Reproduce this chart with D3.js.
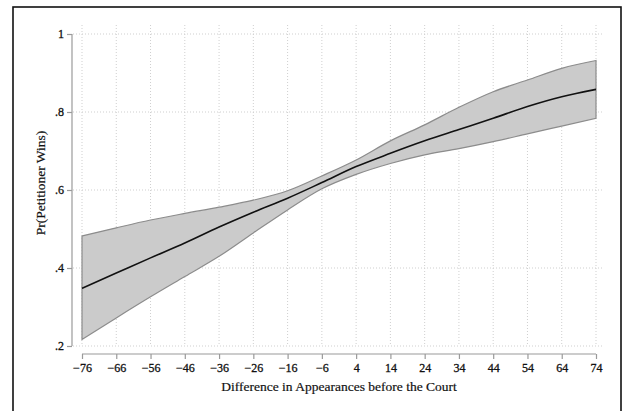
<!DOCTYPE html>
<html><head><meta charset="utf-8">
<script src="https://d3js.org/d3.v7.min.js"></script>
<style>html,body{margin:0;padding:0;background:#fff;}svg{display:block;}</style>
</head><body>
<svg id="c" width="624" height="411"></svg>
<script>
const xValues = [-76,-66,-56,-46,-36,-26,-16,-6,4,14,24,34,44,54,64,74];
const predicted = [0.348,0.387,0.426,0.464,0.505,0.543,0.579,0.619,0.660,0.694,0.726,0.755,0.784,0.814,0.839,0.858];
const upperCI = [0.482,0.503,0.523,0.540,0.556,0.574,0.598,0.636,0.677,0.726,0.767,0.812,0.852,0.882,0.912,0.932];
const lowerCI = [0.217,0.272,0.326,0.378,0.430,0.490,0.549,0.603,0.640,0.668,0.690,0.706,0.724,0.744,0.764,0.784];
const xTicks = [-76,-66,-56,-46,-36,-26,-16,-6,4,14,24,34,44,54,64,74];
const yTicks = [0.2,0.4,0.6,0.8,1];
const yTickLabels = [".2",".4",".6",".8","1"];
const xTitle = "Difference in Appearances before the Court";
const yTitle = "Pr(Petitioner Wins)";

const svg = d3.select("#c");
const font = "'Liberation Serif','Times New Roman',serif";
const x = d3.scaleLinear().domain([-76,74]).range([82,596]);
const y = d3.scaleLinear().domain([0.2,1]).range([346,34]);

// outer frame
svg.append("rect").attr("x",13).attr("y",7).attr("width",608).attr("height",412)
  .attr("fill","none").attr("stroke","#111").attr("stroke-width",1.6);

// grid
const grid = svg.append("g").attr("stroke","#cfcfcf").attr("stroke-width",1).attr("stroke-dasharray","1,2");
xTicks.forEach(t=>grid.append("line").attr("x1",x(t)).attr("x2",x(t)).attr("y1",25).attr("y2",346));
yTicks.forEach(t=>grid.append("line").attr("x1",73).attr("x2",602).attr("y1",y(t)).attr("y2",y(t)));

const data = xValues.map((v,i)=>({x:v,p:predicted[i],u:upperCI[i],l:lowerCI[i]}));
const area = d3.area().x(d=>x(d.x)).y0(d=>y(d.l)).y1(d=>y(d.u)).curve(d3.curveMonotoneX);
svg.append("path").datum(data).attr("d",area).attr("fill","#cbcbcb").attr("stroke","#8c8c8c").attr("stroke-width",1.2);
const line = d3.line().x(d=>x(d.x)).y(d=>y(d.p)).curve(d3.curveMonotoneX);
svg.append("path").datum(data).attr("d",line).attr("fill","none").attr("stroke","#111").attr("stroke-width",1.6);

// axes
const xAxis = d3.axisBottom(x).tickValues(xTicks).tickSize(5).tickPadding(4).tickFormat(d3.format("d"));
const gx = svg.append("g").attr("transform","translate(0,354)").call(xAxis);
const yAxis = d3.axisLeft(y).tickValues(yTicks).tickSize(5).tickPadding(3).tickFormat((d,i)=>yTickLabels[i]);
const gy = svg.append("g").attr("transform","translate(72,0)").call(yAxis);
[gx,gy].forEach(g=>{
  g.select(".domain").attr("stroke","#9a9a9a").attr("stroke-width",1.2);
  g.selectAll(".tick line").attr("stroke","#9a9a9a").attr("stroke-width",1.2);
  g.selectAll(".tick text").attr("fill","#111").attr("stroke","#111").attr("stroke-width",0.3)
    .style("font-family",font).style("font-size","12px");
});
gx.select(".domain").attr("d","M82,0H596");
gy.select(".domain").attr("d","M0,34V346");

svg.append("text").attr("x",339).attr("y",391).attr("text-anchor","middle")
  .attr("stroke","#111").attr("stroke-width",0.2)
  .style("font-family",font).style("font-size","13.5px").attr("fill","#111").text(xTitle);
svg.append("text").attr("transform","translate(45,183) rotate(-90)").attr("text-anchor","middle")
  .attr("stroke","#111").attr("stroke-width",0.2)
  .style("font-family",font).style("font-size","13.5px").attr("fill","#111").text(yTitle);
</script>
</body></html>
